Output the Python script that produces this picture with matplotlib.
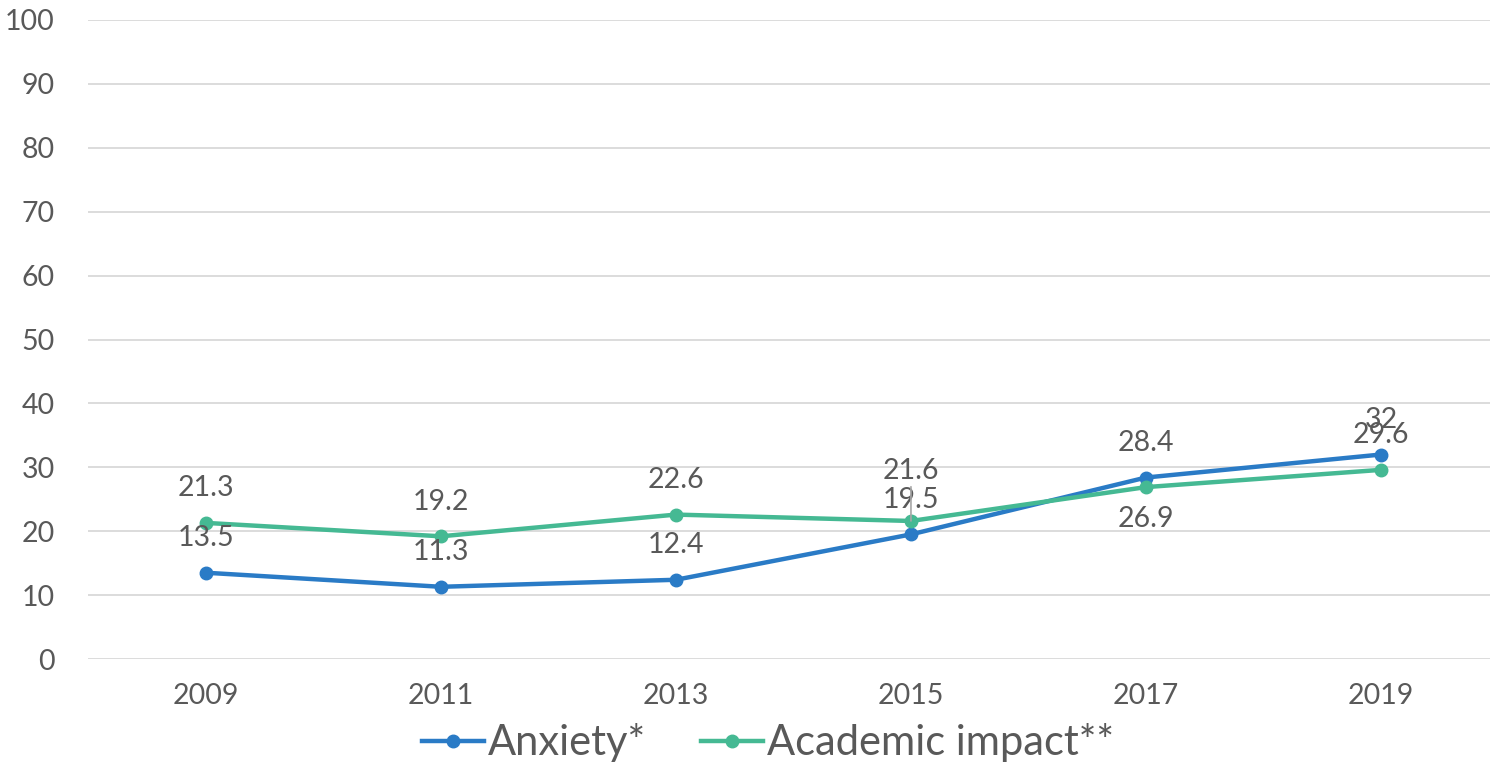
import matplotlib
matplotlib.use("Agg")
import matplotlib.pyplot as plt

years = ["2009", "2011", "2013", "2015", "2017", "2019"]
anxiety = [13.5, 11.3, 12.4, 19.5, 28.4, 32]
academic = [21.3, 19.2, 22.6, 21.6, 26.9, 29.6]
yticks = [0, 10, 20, 30, 40, 50, 60, 70, 80, 90, 100]

BLUE = "#2A7BC6"
GREEN = "#45B993"
TXT = "#595959"
GRID = "#D9D9D9"

plt.rcParams['font.family'] = ['Lato', 'DejaVu Sans']

fig = plt.figure(figsize=(14.91, 7.66), dpi=100)
ax = fig.add_axes([88/1491, 1-659/766, (1490-88)/1491, (659-20)/766])

x = list(range(len(years)))
ax.plot(x, anxiety, color=BLUE, lw=3.2, marker='o', ms=9, label='Anxiety*', zorder=3)
ax.plot(x, academic, color=GREEN, lw=3.2, marker='o', ms=9, label='Academic impact**', zorder=3)

ax.set_xlim(-0.502, 5.464)
ax.set_ylim(0, 100)
ax.set_yticks(yticks)
ax.set_xticks(x)
ax.set_xticklabels(years)
ax.yaxis.grid(True, color=GRID, lw=1.3)
ax.set_axisbelow(True)
for s in ax.spines.values():
    s.set_visible(False)
ax.tick_params(axis='both', length=0, labelsize=20.5, labelcolor=TXT)
ax.tick_params(axis='y', pad=24)
ax.tick_params(axis='x', pad=17)

fs = 20.5
for i, v in enumerate(anxiety):
    ax.annotate(f"{v:g}", (i, v), xytext=(0, 25), textcoords='offset points',
                ha='center', va='center', fontsize=fs, color=TXT)
for i, v in enumerate(academic):
    if i == 4:
        off = (0, -23)
    else:
        off = (0, 25)
    if i == 3:
        ax.annotate(f"{v:g}", (i, v), xytext=(0, 36), textcoords='offset points',
                    ha='center', va='center', fontsize=fs, color=TXT,
                    arrowprops=dict(arrowstyle='-', color='#A6A6A6', lw=1.2,
                                    shrinkA=0, shrinkB=0))
    else:
        ax.annotate(f"{v:g}", (i, v), xytext=off, textcoords='offset points',
                    ha='center', va='center', fontsize=fs, color=TXT)

leg = fig.legend(loc='center', bbox_to_anchor=(0.515, 1-743/766), ncol=2, frameon=False,
                 fontsize=30, labelcolor=TXT, handlelength=1.5, handletextpad=0.1,
                 columnspacing=1.3)

fig.savefig("out.png", dpi=100)
